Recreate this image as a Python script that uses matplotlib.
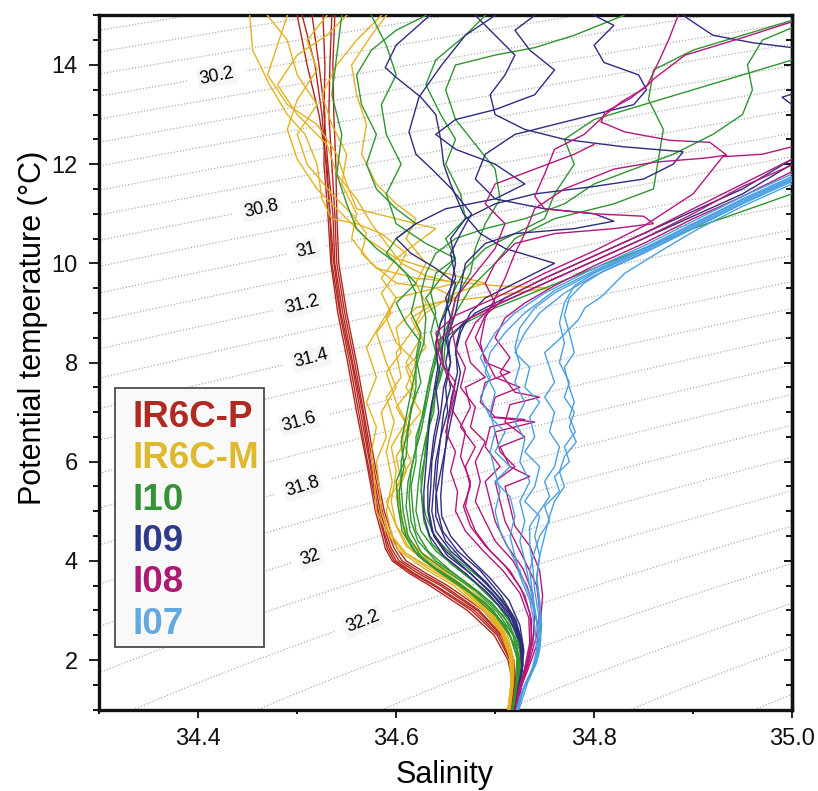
import numpy as np
import matplotlib
matplotlib.use('Agg')
import matplotlib.pyplot as plt
from matplotlib.patches import Rectangle
from matplotlib.ticker import MultipleLocator

plt.rcParams['font.family'] = ['Liberation Sans', 'DejaVu Sans']

# ---------------- data: (salinity, potential temperature) profiles ----------------
IR6CP = [
    [(34.500,15.0),(34.510,14.0),(34.522,13.0),(34.530,12.0),(34.533,11.0),(34.535,10.0),(34.543,9.0),(34.553,8.0),(34.562,7.0),(34.571,6.0),(34.581,5.0),(34.588,4.5),(34.591,4.25),(34.598,4.0),(34.616,3.75),(34.638,3.5),(34.676,3.0),(34.702,2.5),(34.715,2.0),(34.719,1.5),(34.715,1.0)],
    [(34.526,15.0),(34.528,14.0),(34.527,13.0),(34.531,12.0),(34.536,11.0),(34.538,10.0),(34.546,9.0),(34.556,8.0),(34.566,7.0),(34.574,6.0),(34.584,5.0),(34.591,4.5),(34.595,4.25),(34.603,4.0),(34.622,3.75),(34.645,3.5),(34.682,3.0),(34.706,2.5),(34.717,2.0),(34.720,1.5),(34.716,1.0)],
    [(34.535,15.0),(34.533,14.0),(34.532,13.0),(34.535,12.0),(34.538,11.0),(34.540,10.0),(34.548,9.0),(34.558,8.0),(34.567,7.0),(34.576,6.0),(34.586,5.0),(34.593,4.5),(34.598,4.25),(34.606,4.0),(34.626,3.75),(34.648,3.5),(34.684,3.0),(34.707,2.5),(34.718,2.0),(34.719,1.5),(34.715,1.0)],
    [(34.515,15.0),(34.522,14.0),(34.528,13.0),(34.527,12.0),(34.531,11.0),(34.534,10.0),(34.541,9.0),(34.551,8.0),(34.560,7.0),(34.570,6.0),(34.579,5.0),(34.586,4.5),(34.589,4.25),(34.596,4.0),(34.613,3.75),(34.634,3.5),(34.672,3.0),(34.699,2.5),(34.713,2.0),(34.718,1.5),(34.714,1.0)],
    [(34.538,15.0),(34.536,14.0),(34.537,13.0),(34.539,12.0),(34.540,11.0),(34.542,10.0),(34.550,9.0),(34.560,8.0),(34.569,7.0),(34.578,6.0),(34.588,5.0),(34.596,4.5),(34.601,4.25),(34.610,4.0),(34.630,3.75),(34.652,3.5),(34.688,3.0),(34.709,2.5),(34.719,2.0),(34.721,1.5),(34.716,1.0)],
    [(34.505,15.0),(34.518,14.0),(34.525,13.0),(34.529,12.0),(34.533,11.0),(34.537,10.0),(34.544,9.0),(34.555,8.0),(34.564,7.0),(34.573,6.0),(34.582,5.0),(34.589,4.5),(34.593,4.25),(34.600,4.0),(34.618,3.75),(34.640,3.5),(34.679,3.0),(34.704,2.5),(34.716,2.0),(34.719,1.5),(34.715,1.0)],
]

IR6CM = [
    [(34.452,15.0),(34.455,14.3),(34.472,13.6),(34.490,13.0),(34.508,12.6),(34.520,12.0),(34.525,11.3),(34.535,10.9),(34.560,10.8),(34.585,10.6),(34.610,10.2),(34.600,9.8),(34.585,9.4),(34.595,9.0),(34.580,8.6),(34.590,8.0),(34.600,7.5),(34.585,7.0),(34.590,6.5),(34.580,6.0),(34.583,5.5),(34.585,5.0),(34.592,4.6),(34.606,4.2),(34.632,3.85),(34.662,3.5),(34.690,3.0),(34.707,2.55),(34.715,2.05),(34.716,1.5),(34.713,1.0)],
    [(34.585,15.0),(34.560,14.5),(34.540,14.0),(34.525,13.4),(34.535,12.8),(34.550,12.2),(34.545,11.6),(34.560,11.0),(34.555,10.5),(34.575,10.0),(34.600,9.6),(34.640,9.5),(34.660,9.3),(34.620,9.1),(34.600,8.7),(34.605,8.2),(34.590,7.8),(34.600,7.2),(34.610,6.8),(34.595,6.3),(34.600,5.8),(34.595,5.2),(34.600,4.7),(34.610,4.3),(34.635,3.9),(34.665,3.5),(34.693,3.0),(34.709,2.55),(34.717,2.0),(34.717,1.5),(34.714,1.0)],
    [(34.470,15.0),(34.490,14.5),(34.500,13.8),(34.520,13.2),(34.500,12.6),(34.510,12.0),(34.535,11.4),(34.555,11.0),(34.570,10.6),(34.565,10.2),(34.580,9.9),(34.620,9.7),(34.700,9.55),(34.755,9.5),(34.700,9.35),(34.640,9.2),(34.615,8.9),(34.625,8.5),(34.610,8.0),(34.620,7.6),(34.600,7.1),(34.615,6.6),(34.600,6.1),(34.605,5.6),(34.590,5.2),(34.598,4.8),(34.612,4.3),(34.640,3.9),(34.668,3.5),(34.695,3.0),(34.710,2.55),(34.718,2.0),(34.718,1.5),(34.715,1.0)],
    [(34.550,15.0),(34.530,14.6),(34.500,14.2),(34.480,13.6),(34.500,13.0),(34.530,12.4),(34.540,11.8),(34.560,11.3),(34.575,10.8),(34.590,10.4),(34.605,10.0),(34.630,9.75),(34.660,9.6),(34.630,9.45),(34.600,9.3),(34.585,8.8),(34.570,8.3),(34.580,7.7),(34.570,7.2),(34.580,6.7),(34.575,6.2),(34.578,5.6),(34.580,5.0),(34.590,4.6),(34.603,4.2),(34.628,3.85),(34.658,3.5),(34.688,3.0),(34.706,2.55),(34.715,2.05),(34.716,1.5),(34.713,1.0)],
    [(34.490,15.0),(34.480,14.4),(34.470,13.8),(34.490,13.2),(34.520,12.8),(34.540,12.2),(34.550,11.6),(34.560,11.1),(34.600,10.9),(34.640,10.7),(34.620,10.4),(34.600,10.1),(34.585,9.7),(34.600,9.3),(34.590,8.9),(34.600,8.4),(34.620,8.0),(34.610,7.5),(34.625,7.0),(34.605,6.5),(34.615,6.0),(34.600,5.5),(34.605,5.0),(34.608,4.6),(34.620,4.25),(34.645,3.9),(34.672,3.5),(34.698,3.0),(34.712,2.55),(34.719,2.0),(34.718,1.5),(34.715,1.0)],
    [(34.590,15.0),(34.575,14.6),(34.555,14.0),(34.560,13.4),(34.570,12.8),(34.565,12.2),(34.580,11.6),(34.600,11.2),(34.620,10.9),(34.610,10.5),(34.630,10.0),(34.620,9.6),(34.630,9.2),(34.620,8.8),(34.630,8.3),(34.610,7.9),(34.620,7.3),(34.610,6.8),(34.605,6.3),(34.610,5.8),(34.600,5.3),(34.605,4.8),(34.615,4.4),(34.633,4.0),(34.660,3.6),(34.686,3.15),(34.705,2.7),(34.716,2.2),(34.717,1.6),(34.714,1.0)],
    [(34.530,15.0),(34.510,14.5),(34.520,13.9),(34.500,13.3),(34.490,12.7),(34.500,12.1),(34.520,11.5),(34.545,11.0),(34.570,10.5),(34.600,10.1),(34.640,9.85),(34.690,9.6),(34.660,9.4),(34.630,9.0),(34.615,8.6),(34.600,8.2),(34.605,7.7),(34.590,7.3),(34.598,6.8),(34.590,6.2),(34.596,5.6),(34.590,5.0),(34.596,4.5),(34.610,4.15),(34.636,3.85),(34.664,3.5),(34.692,3.0),(34.708,2.55),(34.716,2.0),(34.716,1.5),(34.713,1.0)],
]

I10 = [
    [(34.545,15.0),(34.540,14.2),(34.535,13.4),(34.545,12.6),(34.540,11.8),(34.550,11.2),(34.560,10.7),(34.580,10.3),(34.600,10.0),(34.620,9.6),(34.600,9.2),(34.610,8.8),(34.625,8.4),(34.620,8.0),(34.620,7.5),(34.615,7.0),(34.610,6.5),(34.605,6.0),(34.605,5.5),(34.607,5.0),(34.612,4.5),(34.628,4.0),(34.660,3.6),(34.690,3.15),(34.710,2.7),(34.722,2.2),(34.724,1.7),(34.720,1.0)],
    [(34.575,15.0),(34.590,14.4),(34.600,13.8),(34.585,13.2),(34.590,12.6),(34.605,12.0),(34.590,11.4),(34.600,10.8),(34.630,10.4),(34.660,10.1),(34.640,9.8),(34.635,9.4),(34.640,9.0),(34.635,8.6),(34.640,8.2),(34.635,7.8),(34.630,7.3),(34.625,6.8),(34.620,6.3),(34.615,5.8),(34.613,5.3),(34.615,4.8),(34.622,4.4),(34.640,4.0),(34.668,3.6),(34.697,3.15),(34.715,2.7),(34.725,2.2),(34.726,1.7),(34.721,1.0)],
    [(34.690,15.0),(34.670,14.6),(34.640,14.1),(34.630,13.6),(34.645,13.0),(34.660,12.5),(34.650,12.0),(34.665,11.4),(34.670,10.9),(34.650,10.5),(34.660,10.1),(34.645,9.7),(34.630,9.3),(34.640,8.9),(34.645,8.5),(34.640,8.0),(34.632,7.5),(34.628,7.0),(34.620,6.5),(34.620,6.0),(34.615,5.5),(34.617,5.0),(34.620,4.6),(34.632,4.2),(34.655,3.8),(34.685,3.35),(34.708,2.9),(34.720,2.45),(34.725,2.0),(34.722,1.5),(34.719,1.0)],
    [(35.000,11.4),(34.950,11.05),(34.900,10.7),(34.850,10.3),(34.800,9.9),(34.750,9.5),(34.700,9.1),(34.670,8.8),(34.650,8.5),(34.640,8.1),(34.635,7.6),(34.630,7.1),(34.625,6.6),(34.618,6.1),(34.612,5.6),(34.610,5.1),(34.614,4.6),(34.626,4.15),(34.650,3.8),(34.680,3.4),(34.703,2.95),(34.718,2.5),(34.724,2.0),(34.722,1.5),(34.718,1.0)],
    [(35.000,14.9),(34.950,14.6),(34.900,14.3),(34.860,13.9),(34.855,13.3),(34.870,12.7),(34.865,12.1),(34.860,11.5),(34.820,11.2),(34.760,10.9),(34.720,10.5),(34.700,10.0),(34.675,9.5),(34.660,9.0),(34.650,8.5),(34.648,8.0),(34.640,7.5),(34.638,7.0),(34.630,6.5),(34.625,6.0),(34.622,5.5),(34.620,5.0),(34.625,4.6),(34.640,4.2),(34.662,3.85),(34.690,3.4),(34.710,2.95),(34.723,2.5),(34.727,2.0),(34.723,1.5),(34.720,1.0)],
    [(34.630,15.0),(34.600,14.7),(34.575,14.3),(34.560,13.8),(34.565,13.2),(34.580,12.6),(34.570,12.0),(34.580,11.5),(34.600,11.1),(34.620,10.8),(34.600,10.5),(34.590,10.2),(34.610,9.8),(34.620,9.4),(34.615,9.0),(34.625,8.6),(34.620,8.1),(34.625,7.6),(34.615,7.1),(34.612,6.6),(34.610,6.1),(34.600,5.6),(34.602,5.1),(34.606,4.6),(34.618,4.2),(34.640,3.85),(34.670,3.45),(34.698,3.0),(34.714,2.55),(34.722,2.05),(34.721,1.5),(34.717,1.0)],
    [(35.000,14.1),(34.950,13.8),(34.900,13.5),(34.850,13.2),(34.800,12.9),(34.770,12.5),(34.780,12.0),(34.760,11.4),(34.750,10.9),(34.720,10.6),(34.690,10.3),(34.670,9.9),(34.660,9.5),(34.650,9.1),(34.643,8.7),(34.640,8.2),(34.645,7.7),(34.636,7.2),(34.632,6.7),(34.630,6.2),(34.625,5.7),(34.626,5.2),(34.628,4.8),(34.636,4.35),(34.655,3.95),(34.680,3.55),(34.703,3.1),(34.719,2.65),(34.726,2.15),(34.724,1.6),(34.720,1.0)],
    [(34.830,15.0),(34.780,14.6),(34.740,14.35),(34.700,14.2),(34.660,14.0),(34.650,13.5),(34.660,12.9),(34.680,12.4),(34.700,11.9),(34.705,11.3),(34.690,10.8),(34.680,10.3),(34.675,9.8),(34.660,9.3),(34.655,8.9),(34.645,8.4),(34.648,7.9),(34.640,7.4),(34.635,6.9),(34.630,6.4),(34.628,5.9),(34.625,5.4),(34.630,4.9),(34.640,4.45),(34.660,4.05),(34.688,3.6),(34.710,3.15),(34.722,2.7),(34.728,2.2),(34.725,1.6),(34.721,1.0)],
    [(35.000,14.75),(34.970,14.5),(34.955,14.0),(34.960,13.5),(34.950,13.0),(34.920,12.6),(34.880,12.2),(34.840,11.9),(34.800,11.6),(34.770,11.2),(34.730,10.9),(34.690,10.7),(34.660,10.5),(34.640,10.2),(34.630,9.8),(34.625,9.4),(34.630,8.9),(34.628,8.4),(34.620,7.9),(34.615,7.4),(34.610,6.9),(34.605,6.4),(34.608,5.9),(34.603,5.4),(34.605,4.9),(34.610,4.5),(34.622,4.1),(34.645,3.75),(34.675,3.35),(34.700,2.9),(34.716,2.45),(34.723,2.0),(34.722,1.5),(34.718,1.0)],
]

I09 = [
    [(34.634,15.0),(34.600,14.4),(34.589,13.95),(34.600,13.75),(34.625,13.35),(34.640,13.0),(34.645,12.5),(34.648,12.0),(34.655,11.6),(34.668,11.0),(34.685,10.6),(34.710,10.3),(34.760,10.0),(34.720,9.6),(34.690,9.3),(34.675,9.0),(34.665,8.6),(34.660,8.2),(34.665,7.8),(34.660,7.3),(34.655,6.8),(34.650,6.3),(34.645,5.8),(34.640,5.3),(34.640,4.9),(34.650,4.4),(34.668,4.0),(34.692,3.55),(34.712,3.05),(34.724,2.55),(34.728,2.05),(34.725,1.5),(34.720,1.0)],
    [(34.700,15.0),(34.670,14.6),(34.646,14.0),(34.623,13.35),(34.613,12.65),(34.620,12.2),(34.636,11.9),(34.656,11.5),(34.676,11.0),(34.665,10.6),(34.655,10.2),(34.660,9.7),(34.650,9.3),(34.655,8.9),(34.650,8.5),(34.655,8.0),(34.648,7.5),(34.645,7.0),(34.640,6.5),(34.636,6.0),(34.635,5.5),(34.633,5.0),(34.638,4.5),(34.652,4.1),(34.675,3.75),(34.698,3.3),(34.716,2.85),(34.726,2.35),(34.727,1.85),(34.723,1.4),(34.720,1.0)],
    [(34.800,15.0),(34.820,14.8),(34.800,14.4),(34.810,14.05),(34.845,13.8),(34.853,13.5),(34.840,13.2),(34.780,12.9),(34.720,12.6),(34.690,12.2),(34.680,11.7),(34.700,11.3),(34.750,11.1),(34.800,11.0),(34.820,10.85),(34.780,10.7),(34.720,10.6),(34.690,10.4),(34.670,10.0),(34.665,9.5),(34.660,9.0),(34.652,8.5),(34.655,8.0),(34.650,7.5),(34.652,7.0),(34.645,6.5),(34.642,6.0),(34.640,5.5),(34.642,5.0),(34.647,4.6),(34.662,4.2),(34.685,3.8),(34.706,3.3),(34.721,2.8),(34.728,2.3),(34.727,1.8),(34.722,1.0)],
    [(35.000,12.0),(34.950,11.4),(34.900,10.95),(34.850,10.5),(34.800,10.05),(34.750,9.6),(34.700,9.15),(34.670,8.85),(34.655,8.5),(34.650,8.0),(34.655,7.5),(34.648,7.0),(34.645,6.5),(34.640,6.0),(34.638,5.5),(34.636,5.0),(34.640,4.6),(34.655,4.2),(34.678,3.8),(34.700,3.35),(34.718,2.9),(34.727,2.4),(34.728,1.9),(34.724,1.4),(34.720,1.0)],
    [(34.680,15.0),(34.700,14.6),(34.720,14.2),(34.710,13.8),(34.695,13.4),(34.700,13.0),(34.730,12.7),(34.770,12.5),(34.830,12.35),(34.890,12.25),(34.880,12.0),(34.850,11.7),(34.800,11.55),(34.740,11.4),(34.700,11.2),(34.670,10.9),(34.655,10.5),(34.660,10.0),(34.655,9.5),(34.650,9.0),(34.648,8.5),(34.645,8.0),(34.640,7.5),(34.643,7.0),(34.638,6.5),(34.635,6.0),(34.632,5.5),(34.632,5.0),(34.636,4.6),(34.650,4.2),(34.672,3.8),(34.697,3.35),(34.716,2.9),(34.726,2.4),(34.728,1.9),(34.724,1.4),(34.720,1.0)],
    [(34.890,15.0),(34.920,14.6),(34.960,14.45),(35.020,14.3),(35.030,13.6),(34.990,13.35),(35.000,13.2),(35.050,12.9),(35.050,12.3),(35.000,12.1),(34.950,11.5),(34.900,11.05),(34.850,10.6),(34.800,10.15),(34.750,9.7),(34.710,9.3),(34.680,9.0),(34.665,8.7),(34.660,8.3),(34.662,7.8),(34.656,7.3),(34.652,6.8),(34.650,6.3),(34.647,5.8),(34.645,5.3),(34.646,4.9),(34.655,4.5),(34.672,4.1),(34.695,3.65),(34.714,3.2),(34.725,2.7),(34.729,2.2),(34.726,1.6),(34.721,1.0)],
    [(34.740,15.0),(34.720,14.7),(34.735,14.3),(34.760,13.9),(34.740,13.4),(34.700,13.1),(34.660,12.9),(34.640,12.6),(34.660,12.3),(34.700,12.0),(34.730,11.6),(34.700,11.3),(34.650,11.1),(34.620,10.8),(34.600,10.5),(34.615,10.2),(34.640,9.9),(34.660,9.6),(34.655,9.2),(34.645,8.8),(34.640,8.4),(34.642,7.9),(34.638,7.4),(34.634,6.9),(34.632,6.4),(34.630,5.9),(34.628,5.4),(34.628,4.9),(34.634,4.5),(34.648,4.1),(34.670,3.75),(34.695,3.3),(34.714,2.85),(34.725,2.35),(34.727,1.85),(34.723,1.4),(34.720,1.0)],
]

I08 = [
    [(35.000,11.98),(34.950,11.55),(34.900,11.0),(34.850,10.5),(34.800,10.05),(34.750,9.6),(34.700,9.15),(34.660,8.75),(34.640,8.4),(34.645,8.0),(34.660,7.6),(34.655,7.1),(34.670,6.6),(34.665,6.1),(34.675,5.6),(34.670,5.1),(34.680,4.6),(34.695,4.2),(34.715,3.8),(34.730,3.3),(34.737,2.8),(34.736,2.3),(34.730,1.8),(34.724,1.4),(34.721,1.0)],
    [(35.000,12.1),(34.950,11.6),(34.900,11.1),(34.850,10.6),(34.800,10.15),(34.750,9.7),(34.710,9.3),(34.690,8.95),(34.680,8.5),(34.690,8.1),(34.700,7.7),(34.725,7.5),(34.700,7.3),(34.695,6.9),(34.740,6.8),(34.700,6.6),(34.705,6.2),(34.720,5.9),(34.700,5.6),(34.705,5.2),(34.710,4.8),(34.720,4.4),(34.730,4.0),(34.742,3.5),(34.745,3.0),(34.742,2.5),(34.735,2.0),(34.727,1.5),(34.722,1.0)],
    [(34.885,15.0),(34.876,14.54),(34.867,14.14),(34.854,13.6),(34.837,13.33),(34.811,13.05),(34.807,12.85),(34.831,12.65),(34.877,12.48),(34.917,12.44),(34.934,12.18),(34.911,12.12),(34.861,12.04),(34.820,11.9),(34.770,11.5),(34.740,11.1),(34.730,10.6),(34.720,10.2),(34.710,9.7),(34.700,9.3),(34.690,8.9),(34.685,8.4),(34.690,8.0),(34.715,7.8),(34.690,7.6),(34.685,7.2),(34.700,6.9),(34.730,6.85),(34.695,6.7),(34.690,6.3),(34.705,5.9),(34.690,5.6),(34.695,5.2),(34.700,4.8),(34.712,4.3),(34.728,3.85),(34.738,3.35),(34.740,2.85),(34.738,2.35),(34.731,1.9),(34.725,1.45),(34.721,1.0)],
    [(35.020,15.0),(34.950,14.55),(34.892,14.2),(34.861,13.73),(34.851,13.53),(34.827,13.25),(34.811,12.99),(34.790,12.6),(34.760,12.3),(34.750,11.8),(34.740,11.35),(34.750,11.1),(34.800,11.0),(34.850,10.95),(34.860,10.8),(34.820,10.7),(34.760,10.6),(34.720,10.4),(34.700,10.0),(34.690,9.6),(34.700,9.2),(34.680,8.8),(34.670,8.4),(34.675,8.0),(34.690,7.7),(34.670,7.5),(34.675,7.1),(34.665,6.7),(34.680,6.3),(34.670,5.9),(34.675,5.5),(34.668,5.1),(34.675,4.7),(34.690,4.3),(34.710,3.9),(34.726,3.45),(34.735,2.95),(34.737,2.45),(34.733,1.95),(34.726,1.5),(34.721,1.0)],
    [(35.000,12.35),(34.970,12.2),(34.930,12.15),(34.900,11.4),(34.850,10.75),(34.800,10.25),(34.750,9.8),(34.700,9.3),(34.660,8.95),(34.640,8.6),(34.645,8.2),(34.650,7.8),(34.660,7.4),(34.655,7.0),(34.650,6.6),(34.660,6.2),(34.655,5.8),(34.662,5.4),(34.660,5.0),(34.670,4.6),(34.688,4.2),(34.708,3.8),(34.725,3.35),(34.734,2.85),(34.735,2.35),(34.730,1.85),(34.724,1.4),(34.720,1.0)],
    [(35.000,11.85),(34.950,11.35),(34.900,10.9),(34.850,10.4),(34.800,9.95),(34.760,9.55),(34.730,9.2),(34.710,8.9),(34.700,8.5),(34.715,8.1),(34.705,7.8),(34.720,7.4),(34.745,7.3),(34.715,7.15),(34.710,6.8),(34.730,6.5),(34.705,6.3),(34.715,5.9),(34.735,5.7),(34.710,5.5),(34.715,5.1),(34.720,4.7),(34.735,4.3),(34.745,3.8),(34.748,3.3),(34.746,2.8),(34.742,2.3),(34.733,1.8),(34.725,1.4),(34.722,1.0)],
    [(34.800,12.4),(34.780,12.2),(34.740,11.9),(34.700,11.6),(34.690,11.2),(34.710,10.8),(34.700,10.3),(34.680,9.8),(34.660,9.3),(34.655,8.8),(34.660,8.3),(34.670,7.9),(34.665,7.5),(34.680,7.1),(34.675,6.7),(34.690,6.4),(34.680,6.0),(34.685,5.6),(34.680,5.2),(34.690,4.8),(34.700,4.4),(34.718,4.0),(34.732,3.5),(34.740,3.0),(34.739,2.5),(34.734,2.0),(34.727,1.5),(34.721,1.0)],
]

I07 = [
    [(35.000,11.75),(34.950,11.3),(34.900,10.8),(34.850,10.3),(34.800,9.85),(34.760,9.45),(34.730,9.0),(34.710,8.6),(34.695,8.2),(34.690,7.8),(34.700,7.4),(34.695,7.0),(34.700,6.6),(34.695,6.2),(34.700,5.8),(34.705,5.4),(34.700,5.0),(34.705,4.6),(34.715,4.2),(34.725,3.8),(34.735,3.3),(34.742,2.8),(34.744,2.3),(34.740,1.9),(34.730,1.5),(34.722,1.0)],
    [(35.000,11.65),(34.950,11.2),(34.900,10.7),(34.850,10.2),(34.800,9.75),(34.770,9.4),(34.745,9.0),(34.730,8.6),(34.720,8.2),(34.735,7.9),(34.730,7.5),(34.745,7.2),(34.735,6.9),(34.740,6.5),(34.730,6.2),(34.745,5.9),(34.740,5.5),(34.730,5.2),(34.745,4.9),(34.740,4.5),(34.745,4.1),(34.742,3.7),(34.745,3.2),(34.747,2.7),(34.745,2.2),(34.737,1.8),(34.728,1.4),(34.723,1.0)],
    [(35.000,11.7),(34.950,11.25),(34.900,10.75),(34.850,10.25),(34.800,9.8),(34.780,9.55),(34.770,9.2),(34.765,8.8),(34.770,8.4),(34.765,8.0),(34.775,7.6),(34.770,7.3),(34.780,7.0),(34.775,6.7),(34.782,6.4),(34.770,6.1),(34.765,5.8),(34.770,5.5),(34.760,5.2),(34.755,4.9),(34.750,4.5),(34.745,4.1),(34.742,3.6),(34.745,3.1),(34.746,2.6),(34.744,2.1),(34.735,1.7),(34.726,1.3),(34.722,1.0)],
    [(35.000,11.6),(34.950,11.15),(34.903,10.67),(34.874,10.33),(34.831,9.8),(34.807,9.32),(34.791,9.11),(34.784,8.86),(34.774,8.66),(34.764,8.45),(34.750,8.2),(34.755,7.9),(34.760,7.6),(34.750,7.3),(34.760,7.0),(34.755,6.6),(34.765,6.3),(34.760,5.9),(34.750,5.6),(34.755,5.3),(34.745,5.0),(34.735,4.7),(34.735,4.3),(34.738,3.9),(34.740,3.4),(34.744,2.9),(34.746,2.4),(34.742,1.95),(34.733,1.55),(34.724,1.0)],
    [(35.000,11.8),(34.950,11.35),(34.900,10.85),(34.850,10.35),(34.800,9.9),(34.750,9.4),(34.720,9.0),(34.700,8.6),(34.685,8.1),(34.695,7.7),(34.685,7.3),(34.695,6.9),(34.710,6.6),(34.700,6.2),(34.715,5.9),(34.700,5.6),(34.715,5.3),(34.720,4.9),(34.715,4.5),(34.720,4.1),(34.725,3.7),(34.735,3.2),(34.740,2.7),(34.742,2.2),(34.737,1.8),(34.728,1.4),(34.722,1.0)],
    [(35.000,11.72),(34.950,11.28),(34.900,10.78),(34.850,10.28),(34.800,9.82),(34.760,9.4),(34.740,9.1),(34.725,8.7),(34.720,8.3),(34.725,7.95),(34.720,7.6),(34.730,7.2),(34.720,6.8),(34.730,6.45),(34.725,6.0),(34.735,5.6),(34.725,5.2),(34.730,4.8),(34.725,4.4),(34.730,4.0),(34.735,3.5),(34.740,3.0),(34.744,2.5),(34.742,2.0),(34.733,1.6),(34.725,1.25),(34.722,1.0)],
    [(35.000,11.68),(34.950,11.22),(34.900,10.72),(34.850,10.22),(34.810,9.85),(34.790,9.6),(34.775,9.3),(34.770,8.95),(34.775,8.6),(34.780,8.2),(34.770,7.9),(34.775,7.5),(34.780,7.2),(34.775,6.9),(34.781,6.6),(34.770,6.3),(34.775,6.0),(34.760,5.7),(34.765,5.4),(34.750,5.1),(34.755,4.8),(34.745,4.5),(34.740,4.2),(34.735,3.8),(34.738,3.3),(34.742,2.8),(34.745,2.3),(34.740,1.9),(34.730,1.5),(34.723,1.0)],
]

group_names = ["IR6C-P", "IR6C-M", "I10", "I09", "I08", "I07"]
group_profiles = [IR6CP, IR6CM, I10, I09, I08, I07]
line_colors = ["#b3261e", "#e2b320", "#2f962f", "#2e2c7e", "#b5177b", "#4a9fe3"]
text_colors = ["#b02a22", "#dfb82c", "#369236", "#2e3b8c", "#ad1a74", "#62a9e0"]

sigma_levels = np.round(np.arange(29.0, 33.51, 0.1), 1)
label_levels = [30.2, 30.8, 31.0, 31.2, 31.4, 31.6, 31.8, 32.0, 32.2]
label_positions = [(34.419, 13.75), (34.464, 11.07), (34.510, 10.2), (34.505, 9.16),
                   (34.514, 8.09), (34.502, 6.78), (34.506, 5.47), (34.513, 4.1),
                   (34.567, 2.73)]


def sigma1(S, T):
    """UNESCO EOS-80 potential density anomaly referenced to 1000 dbar."""
    p = 100.0
    T2, T3, T4, T5 = T**2, T**3, T**4, T**5
    S15 = S**1.5
    rw = (999.842594 + 6.793952e-2*T - 9.095290e-3*T2 + 1.001685e-4*T3
          - 1.120083e-6*T4 + 6.536332e-9*T5)
    r0 = (rw + S*(0.824493 - 4.0899e-3*T + 7.6438e-5*T2 - 8.2467e-7*T3 + 5.3875e-9*T4)
          + S15*(-5.72466e-3 + 1.0227e-4*T - 1.6546e-6*T2) + 4.8314e-4*S*S)
    Kw = 19652.21 + 148.4206*T - 2.327105*T2 + 1.360477e-2*T3 - 5.155288e-5*T4
    Aw = 3.239908 + 1.43713e-3*T + 1.16092e-4*T2 - 5.77905e-7*T3
    Bw = 8.50935e-5 - 6.12293e-6*T + 5.2787e-8*T2
    K0 = (Kw + S*(54.6746 - 0.603459*T + 1.09987e-2*T2 - 6.1670e-5*T3)
          + S15*(7.944e-2 + 1.6483e-2*T - 5.3009e-4*T2))
    A = Aw + S*(2.2838e-3 - 1.0981e-5*T - 1.6078e-6*T2) + 1.91075e-4*S15
    B = Bw + S*(-9.9348e-7 + 2.0816e-8*T + 9.1697e-10*T2)
    K = K0 + A*p + B*p*p
    return r0/(1.0 - p/K) - 1000.0


W, H = 818, 791
fig = plt.figure(figsize=(W/100, H/100), dpi=100)
ax = fig.add_axes([99.3/W, 1 - 709.6/H, (792.0-99.3)/W, (709.6-15.4)/H])

# density contours: unlabeled levels, then labeled levels in a separate set
Sg, Tg = np.meshgrid(np.linspace(34.2, 35.1, 220), np.linspace(0.0, 16.0, 320))
sig = sigma1(Sg, Tg)
plain_levels = [lv for lv in sigma_levels if not np.any(np.isclose(lv, label_levels))]
ax.contour(Sg, Tg, sig, levels=plain_levels, colors='#a6a6a6',
           linewidths=0.85, linestyles='dotted', zorder=1)
cs_lab = ax.contour(Sg, Tg, sig, levels=label_levels, colors='#a6a6a6',
                    linewidths=0.85, linestyles='dotted', zorder=1)
texts = ax.clabel(cs_lab, inline=True, inline_spacing=6,
                  fmt=lambda v: f'{v:g}', fontsize=13, colors='black',
                  manual=label_positions)
for t in texts:
    t.set_bbox(dict(boxstyle='square,pad=0.12', fc='#f6f6f6', ec='none'))
    t.set_zorder(2)

# profiles
for profs, col in zip(group_profiles, line_colors):
    for prof in profs:
        s_vals = [p[0] for p in prof]
        t_vals = [p[1] for p in prof]
        ax.plot(s_vals, t_vals, color=col, lw=1.0, zorder=3, solid_joinstyle='round')

ax.set_xlim(34.3, 35.0)
ax.set_ylim(1, 15)
ax.xaxis.set_minor_locator(MultipleLocator(0.1))
ax.yaxis.set_major_locator(MultipleLocator(2))
ax.yaxis.set_minor_locator(MultipleLocator(0.5))
ax.set_xticks([34.4, 34.6, 34.8, 35.0])
ax.set_xticklabels(['34.4', '34.6', '34.8', '35.0'])
ax.tick_params(axis='both', which='major', direction='out', width=1.3,
               labelsize=17, colors='#111111')
ax.tick_params(axis='x', which='major', length=6, pad=7)
ax.tick_params(axis='x', which='minor', direction='out', length=3, width=1.3)
ax.tick_params(axis='y', which='major', length=7.5, pad=8)
ax.tick_params(axis='y', which='minor', direction='out', length=4.5, width=1.3)
for sp in ax.spines.values():
    sp.set_linewidth(2.4)
    sp.set_color('#111111')

sec = ax.secondary_yaxis('right')
sec.yaxis.set_major_locator(MultipleLocator(2))
sec.yaxis.set_minor_locator(MultipleLocator(0.5))
sec.tick_params(which='both', direction='in', labelright=False, width=1.3)
sec.tick_params(which='major', length=6)
sec.tick_params(which='minor', length=4)
sec.spines['right'].set_linewidth(2.4)
sec.spines['right'].set_color('#111111')

fig.text(445/W, 1 - 775/H, 'Salinity', fontsize=22, ha='center', va='center')
fig.text(33/W, 1 - 328/H, 'Potential temperature (°C)', fontsize=22,
         rotation=90, ha='center', va='center')

# legend box
fig.add_artist(Rectangle((114.5/W, 1 - 647/H), (263.5-114.5)/W, (647-387.5)/H,
                         transform=fig.transFigure, facecolor='#f9f9f9',
                         edgecolor='#4d4d4d', linewidth=1.3, zorder=5))
for i, (name, col) in enumerate(zip(group_names, text_colors)):
    fig.text(132.5/W, 1 - (427.0 + 41.3*i)/H, name, color=col, fontsize=26.5,
             fontweight='bold', ha='left', va='baseline', zorder=6)

fig.savefig('out.png', dpi=100)
